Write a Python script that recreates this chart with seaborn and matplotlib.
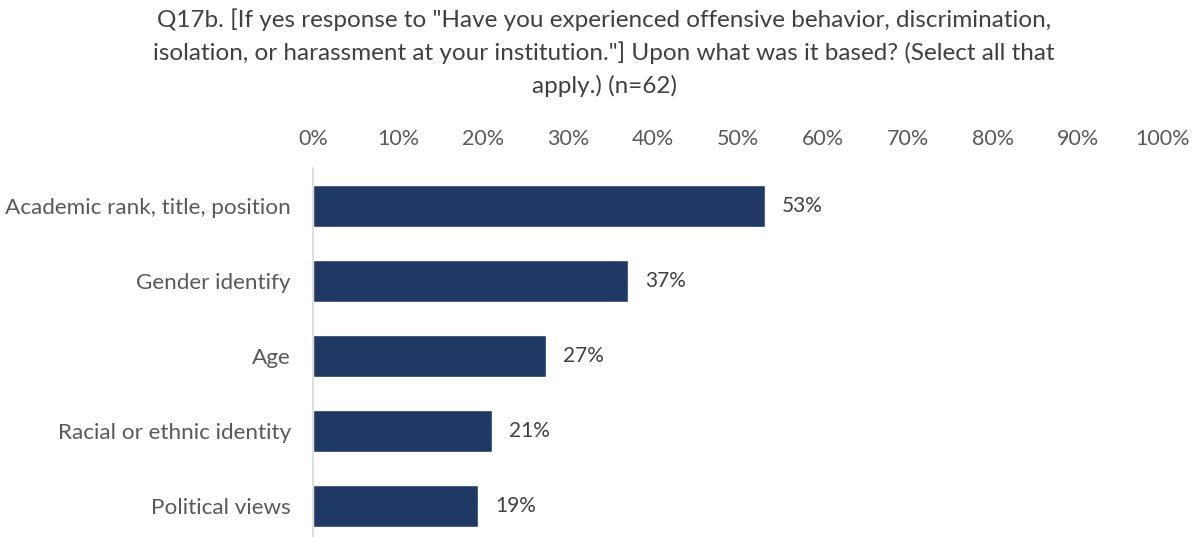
import matplotlib
matplotlib.use("Agg")
import matplotlib.pyplot as plt
import seaborn as sns
import pandas as pd

categories = ["Academic rank, title, position", "Gender identify", "Age",
              "Racial or ethnic identity", "Political views"]
values = [53.2, 37.1, 27.4, 21.0, 19.4]
value_labels = ["53%", "37%", "27%", "21%", "19%"]
tick_values = [0, 10, 20, 30, 40, 50, 60, 70, 80, 90, 100]
tick_labels = [f"{t}%" for t in tick_values]
title = ('Q17b. [If yes response to "Have you experienced offensive behavior, discrimination,\n'
         'isolation, or harassment at your institution."] Upon what was it based? (Select all that\n'
         'apply.) (n=62)')

sns.set_theme(style="white")
plt.rcParams['font.family'] = ['Lato', 'DejaVu Sans']

W, H = 1198, 537
fig = plt.figure(figsize=(W / 100, H / 100), dpi=100)
ax = fig.add_axes([313 / W, 0, 850 / W, 1 - 168 / H])

df = pd.DataFrame({"cat": categories, "val": values})
sns.barplot(data=df, x="val", y="cat", orient="h", color="#203864",
            width=0.56, saturation=1, ax=ax)

ax.set_xlim(0, 100)
ax.set_ylim(4 + 31 / 75, -0.5 - 0.5 / 75)
ax.xaxis.tick_top()
ax.set_xticks(tick_values)
ax.set_xticklabels(tick_labels)
ax.tick_params(axis="x", length=0, pad=14, labelsize=15.5, labelcolor="#595959")
ax.tick_params(axis="y", length=0, pad=16, labelsize=16.2, labelcolor="#595959")
ax.set_xlabel("")
ax.set_ylabel("")
for s in ["top", "right", "bottom"]:
    ax.spines[s].set_visible(False)
ax.spines["left"].set_color("#D9D9D9")
ax.spines["left"].set_linewidth(1.2)

for i, (v, lab) in enumerate(zip(values, value_labels)):
    ax.text(v + 2.0, i, lab, va="center", ha="left", fontsize=15, color="#404040")

fig.text(604 / W, 1 - 8 / H, title, ha="center", va="top", fontsize=17.5,
         color="#404040", linespacing=1.6)

fig.savefig("out.png", dpi=100)
